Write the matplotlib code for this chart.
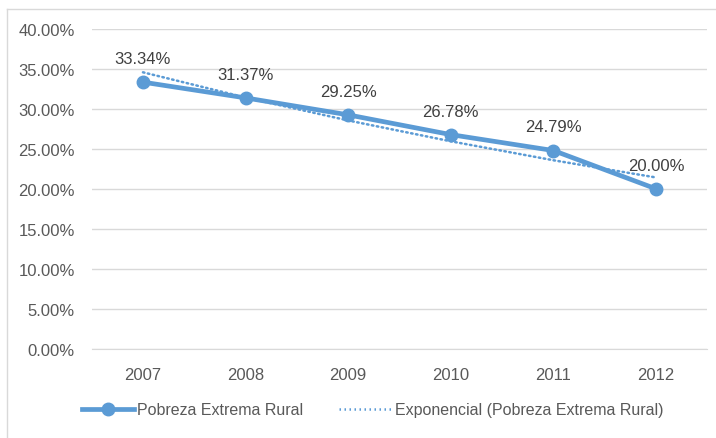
import numpy as np
import matplotlib
matplotlib.use("Agg")
import matplotlib.pyplot as plt
from matplotlib.lines import Line2D

years = ["2007", "2008", "2009", "2010", "2011", "2012"]
pobreza = [0.3334, 0.3137, 0.2925, 0.2678, 0.2479, 0.2000]
y_ticks = [0.0, 0.05, 0.10, 0.15, 0.20, 0.25, 0.30, 0.35, 0.40]

blue = "#5B9BD5"
grid = "#D9D9D9"
plt.rcParams["font.family"] = ["Liberation Sans", "DejaVu Sans"]

fig = plt.figure(figsize=(7.16, 4.39), dpi=100)
ax = fig.add_axes([0.128, 0.203, 0.860, 0.729])

x = np.arange(len(years))

# exponential trendline (least squares fit on log values, like Excel)
b, ln_a = np.polyfit(x, np.log(pobreza), 1)
trend = np.exp(ln_a + b * x)

ax.plot(x, pobreza, color=blue, linewidth=3.4, marker="o", markersize=9,
        solid_capstyle="round", zorder=3)
ax.plot(x, trend, color=blue, linewidth=1.8, linestyle=(0, (0.6, 1.4)),
        dash_capstyle="round", zorder=4)

for xi, v in zip(x, pobreza):
    ax.annotate(f"{v:.2%}", (xi, v), xytext=(0, 17), textcoords="offset points",
                ha="center", va="center", fontsize=12, color="#404040", zorder=5)

ax.set_xlim(-0.5, len(years) - 0.5)
ax.set_ylim(0, 0.40)
ax.set_xticks(x)
ax.set_xticklabels(years)
ax.set_yticks(y_ticks)
ax.set_yticklabels([f"{t:.2%}" for t in y_ticks])
ax.tick_params(axis="both", length=0, labelsize=12, labelcolor="#595959")
ax.tick_params(axis="y", pad=12)
ax.tick_params(axis="x", pad=13)
ax.grid(axis="y", color=grid, linewidth=1)
ax.set_axisbelow(True)
for s in ["top", "right", "left"]:
    ax.spines[s].set_visible(False)
ax.spines["bottom"].set_color(grid)

handles = [
    Line2D([], [], color=blue, linewidth=3.4, marker="o", markersize=9),
    Line2D([], [], color=blue, linewidth=1.8, linestyle=(0, (0.6, 1.4))),
]
fig.legend(handles, ["Pobreza Extrema Rural", "Exponencial (Pobreza Extrema Rural)"],
           loc="center", bbox_to_anchor=(0.52, 0.064), ncol=2, frameon=False,
           fontsize=11.5, labelcolor="#595959", handlelength=3.3, columnspacing=2.2,
           handletextpad=0.2)

# chart frame (cropped at right/bottom)
fig.add_artist(Line2D([7 / 716, 1], [1 - 9.5 / 439, 1 - 9.5 / 439],
                      transform=fig.transFigure, color=grid, linewidth=1))
fig.add_artist(Line2D([7.5 / 716, 7.5 / 716], [1 - 9.5 / 439, 0],
                      transform=fig.transFigure, color=grid, linewidth=1))

fig.savefig("out.png", dpi=100)
